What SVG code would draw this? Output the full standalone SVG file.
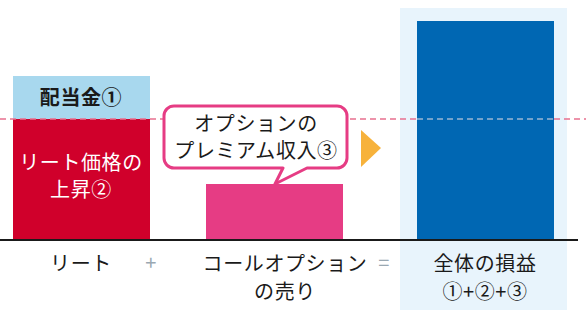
<svg xmlns="http://www.w3.org/2000/svg" width="586" height="320" viewBox="0 0 586 320">
<style>
text{font-family:"Noto Sans CJK JP","Noto Sans",sans-serif;font-size:20px;letter-spacing:0.6px;text-anchor:middle}
.dk{fill:#1a1a1a}
.wh{fill:#ffffff}
.op{fill:#9aa8b2}
</style>
<rect width="586" height="320" fill="#ffffff"/>
<g id="total-panel">
<rect x="400" y="8" width="167" height="302" fill="#e8f4fc"/>
</g>
<g id="dividend">
<rect x="13" y="76" width="137" height="43" fill="#a8d8ee"/>
<text class="dk" x="81" y="105" font-weight="bold">配当金①</text>
</g>
<g id="reit-rise">
<rect x="13" y="119" width="137" height="121" fill="#d0002b"/>
<text class="wh" x="81" y="170">リート価格の</text>
<text class="wh" x="81" y="197">上昇②</text>
</g>
<g id="option-bar">
<rect x="206" y="184" width="137" height="56" fill="#e63c84"/>
</g>
<g id="total-bar">
<rect x="417" y="21" width="137" height="219" fill="#0067b3"/>
</g>
<g id="connectors">
<line x1="0" y1="119" x2="417" y2="119" stroke="#e8708f" stroke-width="1.5" stroke-dasharray="6 4"/>
<line x1="417" y1="119" x2="554" y2="119" stroke="#9bb8d4" stroke-width="1.5" stroke-dasharray="6 4"/>
<line x1="554" y1="119" x2="586" y2="119" stroke="#e8708f" stroke-width="1.5" stroke-dasharray="6 4"/>
<line x1="0" y1="240" x2="578" y2="240" stroke="#1a1a1a" stroke-width="2"/>
<polygon points="361,130 381,148 361,167" fill="#f7b23b"/>
</g>
<g id="callout">
<path d="M174,106 H337 A10,10 0 0 1 347,116 V158 A10,10 0 0 1 337,168 H307 L275,184 L283,168 H174 A10,10 0 0 1 164,158 V116 A10,10 0 0 1 174,106 Z" fill="#ffffff" stroke="#e63c84" stroke-width="3" stroke-linejoin="round"/>
<text class="dk" x="256" y="131">オプションの</text>
<text class="dk" x="256" y="158">プレミアム収入③</text>
</g>
<g id="labels">
<text class="dk" x="81" y="271">リート</text>
<text class="op" x="151" y="270">+</text>
<text class="dk" x="285" y="271">コールオプション</text>
<text class="dk" x="285" y="299">の売り</text>
<text class="op" x="384" y="270">=</text>
<text class="dk" x="485" y="271">全体の損益</text>
<text class="dk" x="485" y="299">①+②+③</text>
</g>
</svg>
